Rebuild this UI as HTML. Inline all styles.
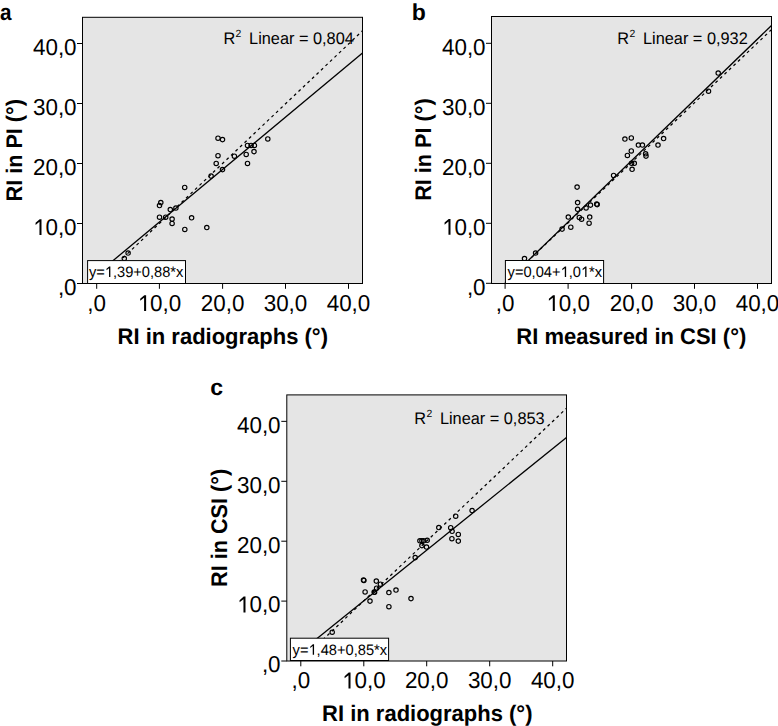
<!DOCTYPE html>
<html><head><meta charset="utf-8"><style>
html,body{margin:0;padding:0;background:#fff;}
svg{display:block;}
text{text-rendering:geometricPrecision;font-family:"Liberation Sans", sans-serif;fill:#000;}
</style></head><body>
<svg width="778" height="726" viewBox="0 0 778 726">
<rect width="778" height="726" fill="#fff"/>
<clipPath id="clipa"><rect x="82.5" y="17.3" width="280" height="266.2"/></clipPath>
<rect x="82.5" y="17.3" width="280" height="266.2" fill="#e5e5e5"/>
<g clip-path="url(#clipa)">
<circle cx="218" cy="138.2" r="2.2" fill="none" stroke="#000" stroke-width="1.15"/>
<circle cx="222.5" cy="139.6" r="2.2" fill="none" stroke="#000" stroke-width="1.15"/>
<circle cx="267.8" cy="138.9" r="2.2" fill="none" stroke="#000" stroke-width="1.15"/>
<circle cx="247.5" cy="145.4" r="2.2" fill="none" stroke="#000" stroke-width="1.15"/>
<circle cx="251.1" cy="145.4" r="2.2" fill="none" stroke="#000" stroke-width="1.15"/>
<circle cx="254.4" cy="145.4" r="2.2" fill="none" stroke="#000" stroke-width="1.15"/>
<circle cx="254" cy="151.6" r="2.2" fill="none" stroke="#000" stroke-width="1.15"/>
<circle cx="218" cy="155.7" r="2.2" fill="none" stroke="#000" stroke-width="1.15"/>
<circle cx="234.4" cy="156.2" r="2.2" fill="none" stroke="#000" stroke-width="1.15"/>
<circle cx="246.2" cy="154.4" r="2.2" fill="none" stroke="#000" stroke-width="1.15"/>
<circle cx="216.2" cy="163.4" r="2.2" fill="none" stroke="#000" stroke-width="1.15"/>
<circle cx="247.5" cy="163.4" r="2.2" fill="none" stroke="#000" stroke-width="1.15"/>
<circle cx="222.5" cy="169.6" r="2.2" fill="none" stroke="#000" stroke-width="1.15"/>
<circle cx="211.1" cy="176.1" r="2.2" fill="none" stroke="#000" stroke-width="1.15"/>
<circle cx="184.7" cy="187.4" r="2.2" fill="none" stroke="#000" stroke-width="1.15"/>
<circle cx="160.8" cy="202.6" r="2.2" fill="none" stroke="#000" stroke-width="1.15"/>
<circle cx="159.5" cy="205.5" r="2.2" fill="none" stroke="#000" stroke-width="1.15"/>
<circle cx="170.3" cy="209.5" r="2.2" fill="none" stroke="#000" stroke-width="1.15"/>
<circle cx="175.9" cy="208" r="2.2" fill="none" stroke="#000" stroke-width="1.15"/>
<circle cx="159.5" cy="217.2" r="2.2" fill="none" stroke="#000" stroke-width="1.15"/>
<circle cx="165.7" cy="217.2" r="2.2" fill="none" stroke="#000" stroke-width="1.15"/>
<circle cx="172.1" cy="219.1" r="2.2" fill="none" stroke="#000" stroke-width="1.15"/>
<circle cx="172.1" cy="223.4" r="2.2" fill="none" stroke="#000" stroke-width="1.15"/>
<circle cx="191.6" cy="217.8" r="2.2" fill="none" stroke="#000" stroke-width="1.15"/>
<circle cx="184.8" cy="229.4" r="2.2" fill="none" stroke="#000" stroke-width="1.15"/>
<circle cx="206.8" cy="227.5" r="2.2" fill="none" stroke="#000" stroke-width="1.15"/>
<circle cx="128.1" cy="253" r="2.2" fill="none" stroke="#000" stroke-width="1.15"/>
<circle cx="124.3" cy="258.5" r="2.2" fill="none" stroke="#000" stroke-width="1.15"/>
<line x1="96.7" y1="282.9" x2="362.5" y2="30.8" stroke="#000" stroke-width="1.25" stroke-dasharray="2.9 3.3" stroke-dashoffset="0.88"/>
<line x1="88" y1="281.46" x2="362.5" y2="53.03" stroke="#000" stroke-width="1.3"/>
</g>
<rect x="82.5" y="17.3" width="280" height="266.2" fill="none" stroke="#000" stroke-width="1"/>
<rect x="87.6" y="260.6" width="97.9" height="22.9" fill="#fff" stroke="#000" stroke-width="1"/>
<text x="88.90" y="276.90" font-size="15.15" textLength="94.49" lengthAdjust="spacingAndGlyphs">y= ,39+0,88*x</text><path transform="translate(104.780 276.900) scale(0.007153 -0.007397)" d="M595 0L595 1180L239 905L239 1090L615 1409L780 1409L780 0Z"/>
<path d="M77 43.5H82.5M77 103.5H82.5M77 163.5H82.5M77 223.5H82.5M77 283.5H82.5M96.7 283.5V288.8M159.4 283.5V288.8M222.6 283.5V288.8M285.5 283.5V288.8M348.5 283.5V288.8" stroke="#000" stroke-width="1" fill="none"/>
<text x="32.95" y="55.05" font-size="23" textLength="43.65" lengthAdjust="spacingAndGlyphs">40,0</text>
<text x="32.95" y="115.05" font-size="23" textLength="43.65" lengthAdjust="spacingAndGlyphs">30,0</text>
<text x="32.95" y="175.05" font-size="23" textLength="43.65" lengthAdjust="spacingAndGlyphs">20,0</text>
<text x="32.95" y="235.05" font-size="23" textLength="43.65" lengthAdjust="spacingAndGlyphs"> 0,0</text><path transform="translate(32.954 235.050) scale(0.010950 -0.011230)" d="M595 0L595 1180L239 905L239 1090L615 1409L780 1409L780 0Z"/>
<text x="57.90" y="295.05" font-size="23" textLength="18.70" lengthAdjust="spacingAndGlyphs">,0</text>
<text x="87.35" y="311.00" font-size="23" textLength="18.70" lengthAdjust="spacingAndGlyphs">,0</text>
<text x="137.58" y="311.00" font-size="23" textLength="43.65" lengthAdjust="spacingAndGlyphs"> 0,0</text><path transform="translate(137.577 311.000) scale(0.010950 -0.011230)" d="M595 0L595 1180L239 905L239 1090L615 1409L780 1409L780 0Z"/>
<text x="200.78" y="311.00" font-size="23" textLength="43.65" lengthAdjust="spacingAndGlyphs">20,0</text>
<text x="263.68" y="311.00" font-size="23" textLength="43.65" lengthAdjust="spacingAndGlyphs">30,0</text>
<text x="326.68" y="311.00" font-size="23" textLength="43.65" lengthAdjust="spacingAndGlyphs">40,0</text>
<text x="117.61" y="343.7" font-size="22.6" font-weight="bold" textLength="210.37" lengthAdjust="spacingAndGlyphs">RI in radiographs (°)</text>
<text transform="translate(22.3 150.3) rotate(-90)" x="-51.18" y="0" font-size="22.6" font-weight="bold" textLength="102.36" lengthAdjust="spacingAndGlyphs">RI in PI (°)</text>
<text x="223.40" y="43.70" font-size="16.9" textLength="11.78" lengthAdjust="spacingAndGlyphs">R</text>
<text x="235.60" y="37.20" font-size="10.4">2</text>
<text x="249.10" y="43.70" font-size="16.9" textLength="104.73" lengthAdjust="spacingAndGlyphs">Linear = 0,804</text>
<text x="0" y="19.6" font-size="23" font-weight="bold" textLength="11.51" lengthAdjust="spacingAndGlyphs">a</text>
<clipPath id="clipb"><rect x="491.5" y="16.5" width="280" height="267"/></clipPath>
<rect x="491.5" y="16.5" width="280" height="267" fill="#e5e5e5"/>
<g clip-path="url(#clipb)">
<circle cx="718.2" cy="73" r="2.2" fill="none" stroke="#000" stroke-width="1.15"/>
<circle cx="708.5" cy="91.2" r="2.2" fill="none" stroke="#000" stroke-width="1.15"/>
<circle cx="624.9" cy="139" r="2.2" fill="none" stroke="#000" stroke-width="1.15"/>
<circle cx="631.3" cy="137.9" r="2.2" fill="none" stroke="#000" stroke-width="1.15"/>
<circle cx="638.4" cy="145" r="2.2" fill="none" stroke="#000" stroke-width="1.15"/>
<circle cx="642.4" cy="145" r="2.2" fill="none" stroke="#000" stroke-width="1.15"/>
<circle cx="631.3" cy="150.9" r="2.2" fill="none" stroke="#000" stroke-width="1.15"/>
<circle cx="627.4" cy="155.4" r="2.2" fill="none" stroke="#000" stroke-width="1.15"/>
<circle cx="645.6" cy="153.8" r="2.2" fill="none" stroke="#000" stroke-width="1.15"/>
<circle cx="646" cy="156.1" r="2.2" fill="none" stroke="#000" stroke-width="1.15"/>
<circle cx="631.6" cy="163.3" r="2.2" fill="none" stroke="#000" stroke-width="1.15"/>
<circle cx="634.3" cy="163.3" r="2.2" fill="none" stroke="#000" stroke-width="1.15"/>
<circle cx="632.1" cy="169.3" r="2.2" fill="none" stroke="#000" stroke-width="1.15"/>
<circle cx="613.6" cy="175.4" r="2.2" fill="none" stroke="#000" stroke-width="1.15"/>
<circle cx="658" cy="145" r="2.2" fill="none" stroke="#000" stroke-width="1.15"/>
<circle cx="663.6" cy="138.5" r="2.2" fill="none" stroke="#000" stroke-width="1.15"/>
<circle cx="577.1" cy="187.1" r="2.2" fill="none" stroke="#000" stroke-width="1.15"/>
<circle cx="577.6" cy="202.6" r="2.2" fill="none" stroke="#000" stroke-width="1.15"/>
<circle cx="577.6" cy="209.3" r="2.2" fill="none" stroke="#000" stroke-width="1.15"/>
<circle cx="586.1" cy="207.9" r="2.2" fill="none" stroke="#000" stroke-width="1.15"/>
<circle cx="590.5" cy="205.1" r="2.2" fill="none" stroke="#000" stroke-width="1.15"/>
<circle cx="596.7" cy="204" r="2.2" fill="none" stroke="#000" stroke-width="1.15"/>
<circle cx="597.2" cy="204.6" r="2.2" fill="none" stroke="#000" stroke-width="1.15"/>
<circle cx="568.3" cy="217" r="2.2" fill="none" stroke="#000" stroke-width="1.15"/>
<circle cx="579.3" cy="217.4" r="2.2" fill="none" stroke="#000" stroke-width="1.15"/>
<circle cx="581.6" cy="219.2" r="2.2" fill="none" stroke="#000" stroke-width="1.15"/>
<circle cx="589.7" cy="217" r="2.2" fill="none" stroke="#000" stroke-width="1.15"/>
<circle cx="589.1" cy="223.2" r="2.2" fill="none" stroke="#000" stroke-width="1.15"/>
<circle cx="570.8" cy="227.2" r="2.2" fill="none" stroke="#000" stroke-width="1.15"/>
<circle cx="562.1" cy="229.1" r="2.2" fill="none" stroke="#000" stroke-width="1.15"/>
<circle cx="535.6" cy="253" r="2.2" fill="none" stroke="#000" stroke-width="1.15"/>
<circle cx="524.5" cy="258.6" r="2.2" fill="none" stroke="#000" stroke-width="1.15"/>
<line x1="505.1" y1="282.6" x2="771.5" y2="29.6" stroke="#000" stroke-width="1.25" stroke-dasharray="2.9 3.3" stroke-dashoffset="1.25"/>
<line x1="505.2" y1="282.8" x2="771.5" y2="25.5" stroke="#000" stroke-width="1.3"/>
</g>
<rect x="491.5" y="16.5" width="280" height="267" fill="none" stroke="#000" stroke-width="1"/>
<rect x="505.4" y="260.5" width="98.2" height="23" fill="#fff" stroke="#000" stroke-width="1"/>
<text x="507.60" y="276.90" font-size="15.15" textLength="94.49" lengthAdjust="spacingAndGlyphs">y=0,04+ ,0 *x</text><path transform="translate(560.549 276.900) scale(0.007153 -0.007397)" d="M595 0L595 1180L239 905L239 1090L615 1409L780 1409L780 0Z"/><path transform="translate(580.915 276.900) scale(0.007153 -0.007397)" d="M595 0L595 1180L239 905L239 1090L615 1409L780 1409L780 0Z"/>
<path d="M486 43.3H491.5M486 103.3H491.5M486 163.3H491.5M486 223.3H491.5M486 283.3H491.5M505.1 283.5V288.8M568.1 283.5V288.8M631.6 283.5V288.8M694.5 283.5V288.8M757.5 283.5V288.8" stroke="#000" stroke-width="1" fill="none"/>
<text x="441.95" y="54.85" font-size="23" textLength="43.65" lengthAdjust="spacingAndGlyphs">40,0</text>
<text x="441.95" y="114.85" font-size="23" textLength="43.65" lengthAdjust="spacingAndGlyphs">30,0</text>
<text x="441.95" y="174.85" font-size="23" textLength="43.65" lengthAdjust="spacingAndGlyphs">20,0</text>
<text x="441.95" y="234.85" font-size="23" textLength="43.65" lengthAdjust="spacingAndGlyphs"> 0,0</text><path transform="translate(441.954 234.850) scale(0.010950 -0.011230)" d="M595 0L595 1180L239 905L239 1090L615 1409L780 1409L780 0Z"/>
<text x="466.90" y="294.85" font-size="23" textLength="18.70" lengthAdjust="spacingAndGlyphs">,0</text>
<text x="495.75" y="311.00" font-size="23" textLength="18.70" lengthAdjust="spacingAndGlyphs">,0</text>
<text x="546.28" y="311.00" font-size="23" textLength="43.65" lengthAdjust="spacingAndGlyphs"> 0,0</text><path transform="translate(546.277 311.000) scale(0.010950 -0.011230)" d="M595 0L595 1180L239 905L239 1090L615 1409L780 1409L780 0Z"/>
<text x="609.78" y="311.00" font-size="23" textLength="43.65" lengthAdjust="spacingAndGlyphs">20,0</text>
<text x="672.68" y="311.00" font-size="23" textLength="43.65" lengthAdjust="spacingAndGlyphs">30,0</text>
<text x="735.68" y="311.00" font-size="23" textLength="43.65" lengthAdjust="spacingAndGlyphs">40,0</text>
<text x="516.32" y="343.9" font-size="22.6" font-weight="bold" textLength="229.96" lengthAdjust="spacingAndGlyphs">RI measured in CSI (°)</text>
<text transform="translate(431 149.6) rotate(-90)" x="-51.18" y="0" font-size="22.6" font-weight="bold" textLength="102.36" lengthAdjust="spacingAndGlyphs">RI in PI (°)</text>
<text x="617.30" y="43.70" font-size="16.9" textLength="11.78" lengthAdjust="spacingAndGlyphs">R</text>
<text x="629.50" y="37.20" font-size="10.4">2</text>
<text x="643.00" y="43.70" font-size="16.9" textLength="104.73" lengthAdjust="spacingAndGlyphs">Linear = 0,932</text>
<text x="411.8" y="19.7" font-size="23" font-weight="bold">b</text>
<clipPath id="clipc"><rect x="286.8" y="394.9" width="279.7" height="266.1"/></clipPath>
<rect x="286.8" y="394.9" width="279.7" height="266.1" fill="#e5e5e5"/>
<g clip-path="url(#clipc)">
<circle cx="472.1" cy="510.5" r="2.2" fill="none" stroke="#000" stroke-width="1.15"/>
<circle cx="455.7" cy="516.2" r="2.2" fill="none" stroke="#000" stroke-width="1.15"/>
<circle cx="438.8" cy="527.5" r="2.2" fill="none" stroke="#000" stroke-width="1.15"/>
<circle cx="450.7" cy="527.7" r="2.2" fill="none" stroke="#000" stroke-width="1.15"/>
<circle cx="452.1" cy="531.3" r="2.2" fill="none" stroke="#000" stroke-width="1.15"/>
<circle cx="458.3" cy="534.4" r="2.2" fill="none" stroke="#000" stroke-width="1.15"/>
<circle cx="451.9" cy="538.7" r="2.2" fill="none" stroke="#000" stroke-width="1.15"/>
<circle cx="458.3" cy="541.1" r="2.2" fill="none" stroke="#000" stroke-width="1.15"/>
<circle cx="419.9" cy="540.8" r="2.2" fill="none" stroke="#000" stroke-width="1.15"/>
<circle cx="421.9" cy="540.8" r="2.2" fill="none" stroke="#000" stroke-width="1.15"/>
<circle cx="423.7" cy="540.8" r="2.2" fill="none" stroke="#000" stroke-width="1.15"/>
<circle cx="427.2" cy="540.3" r="2.2" fill="none" stroke="#000" stroke-width="1.15"/>
<circle cx="421.9" cy="545.6" r="2.2" fill="none" stroke="#000" stroke-width="1.15"/>
<circle cx="426.5" cy="547" r="2.2" fill="none" stroke="#000" stroke-width="1.15"/>
<circle cx="415.2" cy="557.6" r="2.2" fill="none" stroke="#000" stroke-width="1.15"/>
<circle cx="363.5" cy="580" r="2.2" fill="none" stroke="#000" stroke-width="1.15"/>
<circle cx="363.9" cy="580.4" r="2.2" fill="none" stroke="#000" stroke-width="1.15"/>
<circle cx="376.3" cy="581.1" r="2.2" fill="none" stroke="#000" stroke-width="1.15"/>
<circle cx="380.4" cy="584.2" r="2.2" fill="none" stroke="#000" stroke-width="1.15"/>
<circle cx="376.6" cy="588.2" r="2.2" fill="none" stroke="#000" stroke-width="1.15"/>
<circle cx="374.2" cy="592" r="2.2" fill="none" stroke="#000" stroke-width="1.15"/>
<circle cx="374.6" cy="592.3" r="2.2" fill="none" stroke="#000" stroke-width="1.15"/>
<circle cx="365.1" cy="591.9" r="2.2" fill="none" stroke="#000" stroke-width="1.15"/>
<circle cx="370" cy="601.1" r="2.2" fill="none" stroke="#000" stroke-width="1.15"/>
<circle cx="388.9" cy="592.5" r="2.2" fill="none" stroke="#000" stroke-width="1.15"/>
<circle cx="396" cy="590" r="2.2" fill="none" stroke="#000" stroke-width="1.15"/>
<circle cx="411" cy="598.6" r="2.2" fill="none" stroke="#000" stroke-width="1.15"/>
<circle cx="388.9" cy="606.7" r="2.2" fill="none" stroke="#000" stroke-width="1.15"/>
<circle cx="332.2" cy="632.2" r="2.2" fill="none" stroke="#000" stroke-width="1.15"/>
<line x1="300.8" y1="660.73" x2="566.5" y2="408.27" stroke="#000" stroke-width="1.25" stroke-dasharray="2.9 3.3" stroke-dashoffset="0.56"/>
<line x1="291" y1="659.57" x2="566.5" y2="437.46" stroke="#000" stroke-width="1.3"/>
</g>
<rect x="286.8" y="394.9" width="279.7" height="266.1" fill="none" stroke="#000" stroke-width="1"/>
<rect x="290.4" y="638.2" width="98.2" height="22.3" fill="#fff" stroke="#000" stroke-width="1"/>
<text x="292.60" y="654.70" font-size="15.15" textLength="94.49" lengthAdjust="spacingAndGlyphs">y= ,48+0,85*x</text><path transform="translate(308.480 654.700) scale(0.007153 -0.007397)" d="M595 0L595 1180L239 905L239 1090L615 1409L780 1409L780 0Z"/>
<path d="M281.3 421.35H286.8M281.3 481.3H286.8M281.3 541.2H286.8M281.3 601.1H286.8M281.3 661H286.8M300.8 661V666.3M363.8 661V666.3M426.7 661V666.3M489.7 661V666.3M552.7 661V666.3" stroke="#000" stroke-width="1" fill="none"/>
<text x="236.95" y="432.65" font-size="23" textLength="43.65" lengthAdjust="spacingAndGlyphs">40,0</text>
<text x="236.95" y="492.60" font-size="23" textLength="43.65" lengthAdjust="spacingAndGlyphs">30,0</text>
<text x="236.95" y="552.50" font-size="23" textLength="43.65" lengthAdjust="spacingAndGlyphs">20,0</text>
<text x="236.95" y="612.40" font-size="23" textLength="43.65" lengthAdjust="spacingAndGlyphs"> 0,0</text><path transform="translate(236.954 612.400) scale(0.010950 -0.011230)" d="M595 0L595 1180L239 905L239 1090L615 1409L780 1409L780 0Z"/>
<text x="261.90" y="672.30" font-size="23" textLength="18.70" lengthAdjust="spacingAndGlyphs">,0</text>
<text x="291.45" y="688.40" font-size="23" textLength="18.70" lengthAdjust="spacingAndGlyphs">,0</text>
<text x="341.98" y="688.40" font-size="23" textLength="43.65" lengthAdjust="spacingAndGlyphs"> 0,0</text><path transform="translate(341.977 688.400) scale(0.010950 -0.011230)" d="M595 0L595 1180L239 905L239 1090L615 1409L780 1409L780 0Z"/>
<text x="404.88" y="688.40" font-size="23" textLength="43.65" lengthAdjust="spacingAndGlyphs">20,0</text>
<text x="467.88" y="688.40" font-size="23" textLength="43.65" lengthAdjust="spacingAndGlyphs">30,0</text>
<text x="530.88" y="688.40" font-size="23" textLength="43.65" lengthAdjust="spacingAndGlyphs">40,0</text>
<text x="322.11" y="721.2" font-size="22.6" font-weight="bold" textLength="210.37" lengthAdjust="spacingAndGlyphs">RI in radiographs (°)</text>
<text transform="translate(226.5 527.9) rotate(-90)" x="-58.99" y="0" font-size="22.6" font-weight="bold" textLength="117.98" lengthAdjust="spacingAndGlyphs">RI in CSI (°)</text>
<text x="414.20" y="423.60" font-size="16.9" textLength="11.78" lengthAdjust="spacingAndGlyphs">R</text>
<text x="426.40" y="417.10" font-size="10.4">2</text>
<text x="439.90" y="423.60" font-size="16.9" textLength="104.73" lengthAdjust="spacingAndGlyphs">Linear = 0,853</text>
<text x="210.3" y="394.5" font-size="23" font-weight="bold">c</text>
</svg>
</body></html>
